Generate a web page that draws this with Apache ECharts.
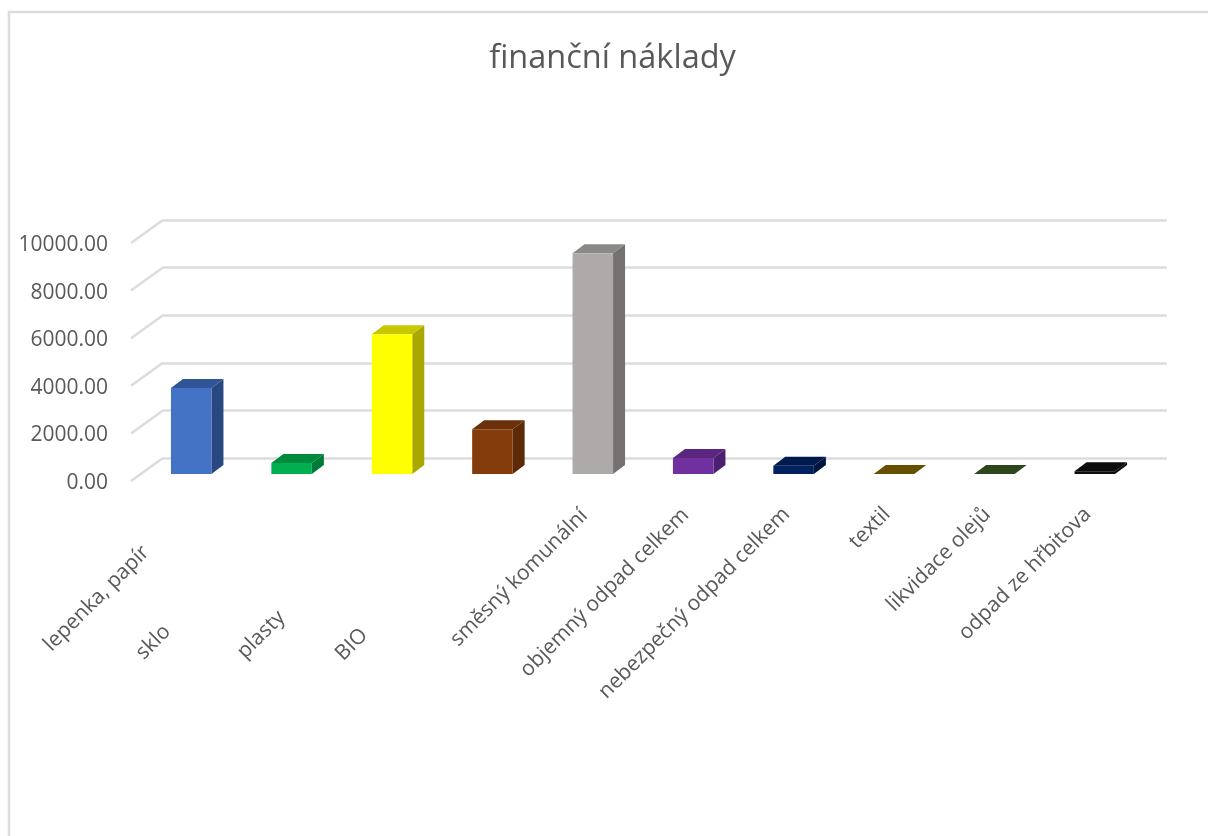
<!DOCTYPE html>
<html><head><meta charset="utf-8">
<style>html,body{margin:0;padding:0;background:#fff}#c{width:1208px;height:836px}</style>
<script src="https://cdn.jsdelivr.net/npm/echarts@6/dist/echarts.min.js"></script>
</head><body><div id="c"></div>
<script>
var categories = ['lepenka, papír','sklo','plasty','BIO','směsný komunální','objemný odpad celkem','nebezpečný odpad celkem','textil','likvidace olejů','odpad ze hřbitova'];
var values = [3613, 462, 5870, 1877, 9272, 672, 350, 5, 5, 113];
var frontColors = ['#4472c4','#00b050','#ffff00','#843c0c','#aeaaaa','#7030a0','#002060','#7f6000','#385723','#0d0d0d'];
var topColors   = ['#2f5597','#008a3e','#c8c800','#6a300a','#8b8888','#5a2680','#001a4d','#665000','#2d461c','#0d0d0d'];
var sideColors  = ['#2a4880','#007a37','#a8a800','#5c2a06','#757171','#4b2070','#00153f','#584400','#263c18','#0a0a0a'];
var valueTicks = [0,2000,4000,6000,8000,10000];
var labelGaps = [64,176,156,181,12,11,10,10,10,10];
var FONT = '"Open Sans"';
var DX = 12, DY = -9, BAR = 40.5;
var chart = echarts.init(document.getElementById('c'));
function barItem(params, api){
  var i = api.value(0), v = api.value(1);
  var base = api.coord([i,0]), top = api.coord([i,v]);
  var x0 = base[0]-BAR/2, x1 = base[0]+BAR/2, yb = base[1], yt = top[1];
  return {type:'group', children:[
    {type:'polygon', shape:{points:[[x1,yb],[x1+DX,yb+DY],[x1+DX,yt+DY],[x1,yt]]}, style:{fill:sideColors[i]}},
    {type:'polygon', shape:{points:[[x0,yt],[x0+DX,yt+DY],[x1+DX,yt+DY],[x1,yt]]}, style:{fill:topColors[i]}},
    {type:'rect', shape:{x:x0,y:yt,width:BAR,height:yb-yt}, style:{fill:frontColors[i]}}
  ]};
}
function diagItem(params, api){
  var v = api.value(0);
  var p = api.coord([0,v]);
  var x = p[0]-api.size([1,0])[0]/2;
  return {type:'line', shape:{x1:x-32,y1:p[1]+23,x2:x,y2:p[1]}, style:{stroke:'#dcdcdc',lineWidth:2.5}};
}
chart.setOption({
  animation:false,
  backgroundColor:'#fff',
  title:{text:'finanční náklady',left:607.5,top:37,textAlign:'center',textStyle:{fontFamily:FONT,fontSize:32.5,fontWeight:'normal',color:'#595959'}},
  grid:[
    {left:163,top:220,width:1004,height:238},
    {left:141,top:236,width:1004,height:238},
    {left:131,top:245,width:1004,height:238}
  ],
  xAxis:[
    {gridIndex:0,type:'category',data:categories,show:false},
    {gridIndex:1,type:'category',
      data:categories.map(function(c,i){return {value:c,textStyle:{padding:[0,labelGaps[i],0,0]}};}),
      axisLine:{show:false},axisTick:{show:false},
      axisLabel:{rotate:45,interval:0,margin:30,fontFamily:FONT,fontSize:21,color:'#595959'}},
    {gridIndex:2,type:'category',data:categories,show:false}
  ],
  yAxis:[
    {gridIndex:0,type:'value',min:0,max:10000,interval:2000,axisLine:{show:false},axisTick:{show:false},axisLabel:{show:false},splitLine:{lineStyle:{color:'#dcdcdc',width:2.5}}},
    {gridIndex:1,type:'value',min:0,max:10000,interval:2000,show:false},
    {gridIndex:2,type:'value',min:0,max:10000,interval:2000,axisLine:{show:false},axisTick:{show:false},splitLine:{show:false},
      axisLabel:{margin:23,fontFamily:FONT,fontSize:21,color:'#595959',formatter:function(v){return v.toFixed(2);}}}
  ],
  series:[
    {type:'custom',xAxisIndex:0,yAxisIndex:0,renderItem:diagItem,encode:{y:0},data:valueTicks.map(function(v){return [v];}),silent:true,z:1},
    {type:'custom',xAxisIndex:1,yAxisIndex:1,renderItem:barItem,encode:{x:0,y:1},data:values.map(function(v,i){return [i,v];}),z:3}
  ],
  graphic:[{type:'rect',shape:{x:9,y:12,width:1300,height:900},style:{fill:'none',stroke:'#dcdcdc',lineWidth:2.5},silent:true}]
});
</script></body></html>
